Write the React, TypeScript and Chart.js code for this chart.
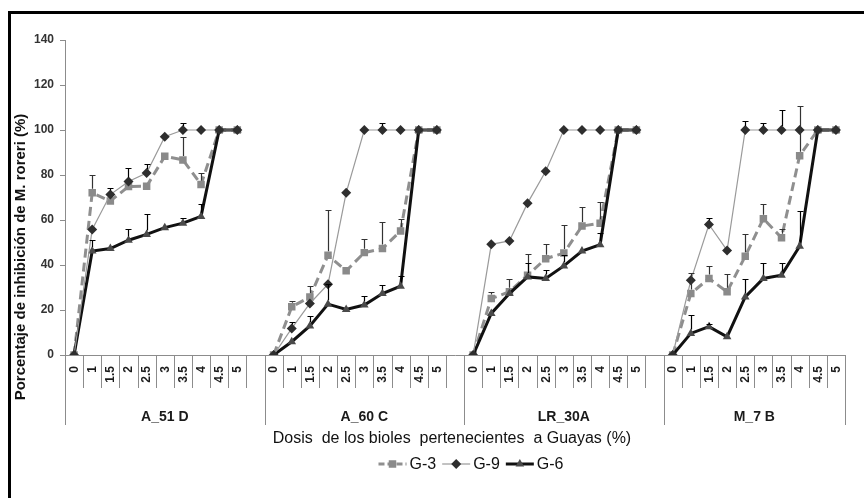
import React, { useEffect, useRef } from "react";
import { Chart, registerables } from "chart.js";

Chart.register(...registerables);

// ---------- data ----------
const GROUPS = ["A_51 D", "A_60 C", "LR_30A", "M_7 B"];
const DOSES = ["0", "1", "1.5", "2", "2.5", "3", "3.5", "4", "4.5", "5"];
const SERIES_NAMES = ["G-3", "G-9", "G-6"];
const Y_MIN = 0;
const Y_MAX = 140;
const Y_STEP = 20;
const X_TITLE = "Dosis  de los bioles  pertenecientes  a Guayas (%)";
const Y_TITLE = "Porcentaje de inhibición de M. roreri (%)";

// G-3 (mean values per group)
const G3_A51D = [0, 72.1, 68.4, 74.9, 75, 88.3, 86.7, 75.8, 100, 100];
const G3_A60C = [0, 21.4, 25.8, 44.3, 37.4, 45.5, 47.3, 55.1, 100, 100];
const G3_LR30A = [0, 25.1, 28.1, 35.5, 42.8, 45.3, 57.3, 58.6, 100, 100];
const G3_M7B = [0, 27.3, 34, 28.1, 43.9, 60.6, 52.1, 88.6, 100, 100];

// G-9
const G9_A51D = [0, 55.8, 71.3, 77.1, 80.9, 97, 100, 100, 100, 100];
const G9_A60C = [0, 11.8, 22.9, 31.5, 72.1, 100, 100, 100, 100, 100];
const G9_LR30A = [0, 49.2, 50.7, 67.5, 81.7, 100, 100, 100, 100, 100];
const G9_M7B = [0, 33.2, 58, 46.5, 100, 100, 100, 100, 100, 100];

// G-6
const G6_A51D = [0, 46.2, 47.3, 51, 53.6, 56.6, 58.6, 61.6, 100, 100];
const G6_A60C = [0, 5.9, 12.9, 22.6, 20.2, 22.2, 27.3, 30.6, 100, 100];
const G6_LR30A = [0, 18.5, 27.3, 34.7, 34, 39.6, 46.2, 49, 100, 100];
const G6_M7B = [0, 9.6, 12.6, 8.1, 25.8, 34, 35.5, 48.3, 100, 100];

// upper error bars
const G3_ERR_A51D = [0, 8, 0, 0, 0, 0, 10, 5, 0, 0];
const G3_ERR_A60C = [0, 2.7, 5, 20, 0, 6, 12, 5.5, 0, 0];
const G3_ERR_LR30A = [0, 3, 5.7, 9.3, 6.6, 12.3, 8.7, 9.3, 0, 0];
const G3_ERR_M7B = [0, 9, 5.6, 8, 9.7, 6.6, 3.7, 22, 0, 0];

const G9_ERR_A51D = [0, 0, 3, 6, 4, 0, 3, 0, 0, 0];
const G9_ERR_A60C = [0, 3, 0, 0, 0, 0, 3, 0, 0, 0];
const G9_ERR_LR30A = [0, 0, 0, 0, 0, 0, 0, 0, 0, 0];
const G9_ERR_M7B = [0, 0, 3, 0, 4, 3, 9, 0, 0, 0];

const G6_ERR_A51D = [0, 5, 0, 5, 9, 0, 2.5, 5.5, 0, 0];
const G6_ERR_A60C = [0, 0, 4.6, 9, 0, 4, 3.7, 4.5, 0, 0];
const G6_ERR_LR30A = [0, 0, 0, 6, 4, 4.7, 0, 5.2, 0, 0];
const G6_ERR_M7B = [0, 8, 1.2, 0, 8, 7, 5.5, 15.8, 0, 0];

// ---------- build helpers ----------
function joinGroups(parts: (number | null)[][]): (number | null)[] {
  const out: (number | null)[] = [];
  parts.forEach((p, gi) => {
    out.push(...p);
    if (gi < parts.length - 1) out.push(null);
  });
  return out;
}

const LABELS: string[] = [];
const GROUP_RANGES: { start: number; end: number }[] = [];
GROUPS.forEach((_, gi) => {
  const start = LABELS.length;
  LABELS.push(...DOSES);
  if (gi < GROUPS.length - 1) LABELS.push("");
  GROUP_RANGES.push({ start, end: LABELS.length });
});

const FONT = "'Liberation Sans', Arial, sans-serif";

const STYLES = [
  {
    color: "#8f8f8f",
    pointColor: "#8a8a8a",
    width: 3,
    dash: [9, 5],
    pointStyle: "rect",
    radius: 5.3,
    order: 2,
  },
  {
    color: "#9a9a9a",
    pointColor: "#2e2e2e",
    width: 1.2,
    dash: [] as number[],
    pointStyle: "rectRot",
    radius: 5,
    order: 0,
  },
  {
    color: "#111111",
    pointColor: "#4a4a4a",
    width: 3,
    dash: [] as number[],
    pointStyle: "triangle",
    radius: 5,
    order: 1,
  },
];

const SERIES_DATA = [
  joinGroups([G3_A51D, G3_A60C, G3_LR30A, G3_M7B]),
  joinGroups([G9_A51D, G9_A60C, G9_LR30A, G9_M7B]),
  joinGroups([G6_A51D, G6_A60C, G6_LR30A, G6_M7B]),
];
const SERIES_ERR = [
  joinGroups([G3_ERR_A51D, G3_ERR_A60C, G3_ERR_LR30A, G3_ERR_M7B]),
  joinGroups([G9_ERR_A51D, G9_ERR_A60C, G9_ERR_LR30A, G9_ERR_M7B]),
  joinGroups([G6_ERR_A51D, G6_ERR_A60C, G6_ERR_LR30A, G6_ERR_M7B]),
];

function drawMarker(ctx: CanvasRenderingContext2D, style: string, x: number, y: number, r: number, color: string) {
  ctx.save();
  ctx.fillStyle = color;
  ctx.beginPath();
  if (style === "rect") {
    const s = r * Math.SQRT1_2;
    ctx.rect(x - s, y - s, 2 * s, 2 * s);
  } else if (style === "rectRot") {
    ctx.moveTo(x, y - r);
    ctx.lineTo(x + r, y);
    ctx.lineTo(x, y + r);
    ctx.lineTo(x - r, y);
    ctx.closePath();
  } else {
    const a = (2 * Math.PI) / 3;
    ctx.moveTo(x, y - r);
    ctx.lineTo(x + Math.sin(a) * r, y - Math.cos(a) * r);
    ctx.lineTo(x + Math.sin(2 * a) * r, y - Math.cos(2 * a) * r);
    ctx.closePath();
  }
  ctx.fill();
  ctx.restore();
}

const decorPlugin = {
  id: "decor",
  beforeDraw(chart: any) {
    const ctx: CanvasRenderingContext2D = chart.ctx;
    ctx.save();
    ctx.fillStyle = "#ffffff";
    ctx.fillRect(0, 0, chart.width, chart.height);
    ctx.fillStyle = "#000000";
    ctx.fillRect(8, 11, 3, chart.height);
    ctx.fillRect(8, 11, chart.width, 3);
    ctx.restore();
  },
  afterDatasetsDraw(chart: any) {
    const ctx: CanvasRenderingContext2D = chart.ctx;
    const yScale = chart.scales.y;
    ctx.save();
    chart.data.datasets.forEach((ds: any, di: number) => {
      const meta = chart.getDatasetMeta(di);
      const errs = SERIES_ERR[di];
      ctx.strokeStyle = di === 0 ? "#333333" : "#000000";
      ctx.lineWidth = 1.2;
      meta.data.forEach((pt: any, i: number) => {
        const v = ds.data[i];
        const e = errs[i];
        if (v == null || !e) return;
        const x = Math.round(pt.x) + 0.5;
        const y0 = pt.y - 4;
        const y1 = Math.round(yScale.getPixelForValue(v + e)) + 0.5;
        ctx.beginPath();
        ctx.moveTo(x, y0);
        ctx.lineTo(x, y1);
        ctx.moveTo(x - 3, y1);
        ctx.lineTo(x + 3, y1);
        ctx.stroke();
      });
    });
    ctx.restore();
  },
  afterDraw(chart: any) {
    const ctx: CanvasRenderingContext2D = chart.ctx;
    const area = chart.chartArea;
    const xs = chart.scales.x;
    const n = LABELS.length;
    const slot = (area.right - area.left) / n;
    const axisY = area.bottom;
    ctx.save();
    // separators
    ctx.strokeStyle = "#8c8c8c";
    ctx.lineWidth = 1;
    const groupBounds = new Set<number>();
    GROUP_RANGES.forEach((g) => {
      groupBounds.add(g.start);
      groupBounds.add(g.end);
    });
    for (let i = 0; i <= n; i++) {
      const bx = Math.round(area.left + i * slot) + 0.5;
      const len = groupBounds.has(i) ? 70 : 33;
      ctx.beginPath();
      ctx.moveTo(bx, axisY);
      ctx.lineTo(bx, axisY + len);
      ctx.stroke();
    }
    // dose labels
    ctx.fillStyle = "#1a1a1a";
    ctx.font = `bold 12px ${FONT}`;
    ctx.textAlign = "right";
    ctx.textBaseline = "middle";
    LABELS.forEach((lab, i) => {
      if (!lab) return;
      const cx = xs.getPixelForValue(i);
      ctx.save();
      ctx.translate(cx + 0.5, axisY + 11);
      ctx.rotate(-Math.PI / 2);
      ctx.fillText(lab, 0, 0);
      ctx.restore();
    });
    // group labels
    ctx.font = `bold 14px ${FONT}`;
    ctx.textAlign = "center";
    GROUPS.forEach((g, gi) => {
      const r = GROUP_RANGES[gi];
      const cx = area.left + ((r.start + r.end) / 2) * slot;
      ctx.fillText(g, cx, axisY + 62);
    });
    // x title
    ctx.font = `16px ${FONT}`;
    ctx.fillStyle = "#111111";
    ctx.fillText(X_TITLE, 452, axisY + 84);
    // y title
    ctx.save();
    ctx.translate(21, 257);
    ctx.rotate(-Math.PI / 2);
    ctx.font = `bold 15px ${FONT}`;
    ctx.fillText(Y_TITLE, 0, 0);
    ctx.restore();
    // legend
    ctx.font = `16px ${FONT}`;
    ctx.textAlign = "left";
    const ly = axisY + 109;
    const lineLen = 28;
    const gapText = 3;
    const gapItem = 6;
    let total = 0;
    SERIES_NAMES.forEach((s, i) => {
      total += lineLen + gapText + ctx.measureText(s).width + (i < SERIES_NAMES.length - 1 ? gapItem : 0);
    });
    let lx = 471 - total / 2;
    SERIES_NAMES.forEach((s, i) => {
      const st = STYLES[i];
      ctx.save();
      ctx.strokeStyle = st.color;
      ctx.lineWidth = st.width;
      ctx.setLineDash(st.dash.length ? [6, 3] : []);
      ctx.beginPath();
      ctx.moveTo(lx, ly);
      ctx.lineTo(lx + lineLen, ly);
      ctx.stroke();
      ctx.restore();
      drawMarker(ctx, st.pointStyle, lx + lineLen / 2, ly, st.radius, st.pointColor);
      ctx.fillStyle = "#111111";
      ctx.fillText(s, lx + lineLen + gapText, ly + 1);
      lx += lineLen + gapText + ctx.measureText(s).width + gapItem;
    });
    ctx.restore();
  },
};

export default function App() {
  const canvasRef = useRef<HTMLCanvasElement | null>(null);

  useEffect(() => {
    if (!canvasRef.current) return;
    const chart = new Chart(canvasRef.current, {
      type: "line",
      data: {
        labels: LABELS,
        datasets: SERIES_NAMES.map((name, i) => ({
          label: name,
          data: SERIES_DATA[i],
          borderColor: STYLES[i].color,
          borderWidth: STYLES[i].width,
          borderDash: STYLES[i].dash,
          backgroundColor: STYLES[i].pointColor,
          pointStyle: STYLES[i].pointStyle as any,
          pointRadius: STYLES[i].radius,
          pointBackgroundColor: STYLES[i].pointColor,
          pointBorderColor: STYLES[i].pointColor,
          pointBorderWidth: 0,
          spanGaps: false,
          tension: 0,
          order: STYLES[i].order,
        })),
      },
      options: {
        responsive: false,
        animation: false,
        devicePixelRatio: 1,
        layout: { padding: { left: 0, top: 40, right: 19, bottom: 0 } },
        plugins: {
          legend: { display: false },
          tooltip: { enabled: false },
          title: { display: false },
        },
        scales: {
          x: {
            type: "category",
            offset: true,
            ticks: { display: false },
            grid: { display: true, drawOnChartArea: false, drawTicks: false },
            border: { display: true, color: "#8c8c8c", width: 1 },
            afterFit: (s: any) => {
              s.height = 143;
            },
          },
          y: {
            min: Y_MIN,
            max: Y_MAX,
            ticks: {
              stepSize: Y_STEP,
              color: "#333333",
              font: { family: FONT, size: 12, weight: "bold" },
              padding: 6,
            },
            grid: { display: true, drawOnChartArea: false, drawTicks: true, tickLength: 5, color: "#8c8c8c" },
            border: { display: true, color: "#8c8c8c", width: 1 },
            afterFit: (s: any) => {
              s.width = 65;
            },
          },
        },
      },
      plugins: [decorPlugin],
    });
    return () => chart.destroy();
  }, []);

  return (
    <div style={{ position: "fixed", left: 0, top: 0, width: 864, height: 498, background: "#fff" }}>
      <canvas ref={canvasRef} width={864} height={498} style={{ display: "block", width: 864, height: 498 }} />
    </div>
  );
}
